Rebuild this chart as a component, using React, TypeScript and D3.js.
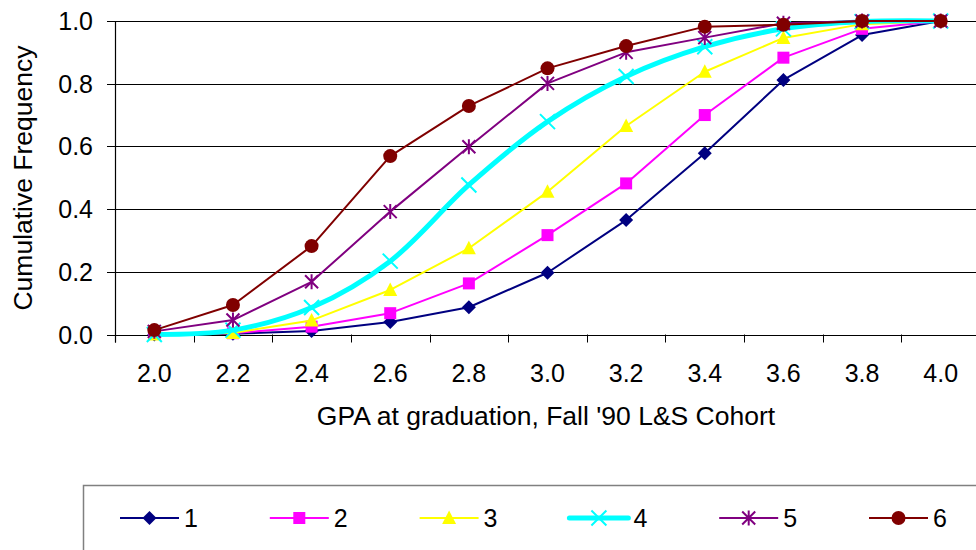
import React from "react";
import * as d3 from "d3";

const categories = ["2.0", "2.2", "2.4", "2.6", "2.8", "3.0", "3.2", "3.4", "3.6", "3.8", "4.0"];
const yTicks = [0, 0.2, 0.4, 0.6, 0.8, 1.0];
const seriesNames = ["1", "2", "3", "4", "5", "6"];
const s1 = [0.0, 0.002, 0.011, 0.04, 0.087, 0.197, 0.365, 0.578, 0.812, 0.955, 1.0];
const s2 = [0.004, 0.004, 0.025, 0.068, 0.163, 0.317, 0.482, 0.70, 0.883, 0.975, 1.0];
const s3 = [0.0, 0.005, 0.045, 0.142, 0.275, 0.455, 0.665, 0.838, 0.946, 0.99, 1.0];
const s4 = [0.0, 0.014, 0.086, 0.234, 0.477, 0.679, 0.823, 0.918, 0.975, 0.998, 1.0];
const s5 = [0.01, 0.046, 0.168, 0.392, 0.599, 0.801, 0.9, 0.947, 0.993, 1.0, 1.0];
const s6 = [0.014, 0.094, 0.282, 0.569, 0.729, 0.849, 0.92, 0.982, 0.988, 1.0, 1.0];
const seriesValues = [s1, s2, s3, s4, s5, s6];
const colors = ["#000080", "#FF00FF", "#FFFF00", "#00FFFF", "#800080", "#800000"];
const markerTypes = ["diamond", "square", "triangle", "x", "star", "circle"];
const lineWidths = [2, 2, 2, 5, 2, 2];
const smooth = [false, false, false, true, false, false];

const FONT = "'Liberation Sans', Arial, sans-serif";

function Marker({ type, cx, cy, color }: { type: string; cx: number; cy: number; color: string }) {
  if (type === "diamond") {
    const r = 7;
    return <path d={`M${cx},${cy - r}L${cx + r},${cy}L${cx},${cy + r}L${cx - r},${cy}Z`} fill={color} />;
  }
  if (type === "square") {
    const r = 6;
    return <rect x={cx - r} y={cy - r} width={2 * r} height={2 * r} fill={color} />;
  }
  if (type === "triangle") {
    return <path d={`M${cx},${cy - 7.5}L${cx + 7},${cy + 6}L${cx - 7},${cy + 6}Z`} fill={color} />;
  }
  if (type === "x") {
    const r = 7.5;
    return (
      <path d={`M${cx - r},${cy - r}L${cx + r},${cy + r}M${cx - r},${cy + r}L${cx + r},${cy - r}`} stroke={color} strokeWidth={2} fill="none" />
    );
  }
  if (type === "star") {
    const r = 6.5;
    return (
      <path
        d={`M${cx - r},${cy - r}L${cx + r},${cy + r}M${cx - r},${cy + r}L${cx + r},${cy - r}M${cx},${cy - r - 1}L${cx},${cy + r + 1}`}
        stroke={color}
        strokeWidth={2}
        fill="none"
      />
    );
  }
  return <circle cx={cx} cy={cy} r={7} fill={color} />;
}

export default function App() {
  const W = 976;
  const H = 550;
  const left = 115;
  const right = 980;
  const top = 21;
  const bottom = 334.5;
  const x = d3.scaleBand<string>().domain(categories).range([left, right]);
  const y = d3.scaleLinear().domain([0, 1]).range([bottom, top]);
  const cx = (c: string) => (x(c) as number) + x.bandwidth() / 2;

  const legendX0 = 120;
  const legendStep = 149.8;
  const legendY = 518;

  return (
    <svg width={W} height={H} style={{ position: "absolute", left: 0, top: 0, background: "#fff" }} fontFamily={FONT}>
      {/* gridlines */}
      {yTicks.map((t) => (
        <line key={"g" + t} x1={left - 8} x2={right} y1={Math.round(y(t)) + 0.5} y2={Math.round(y(t)) + 0.5} stroke="#000" strokeWidth={1} />
      ))}
      {/* y axis */}
      <line x1={left + 0.5} x2={left + 0.5} y1={top} y2={bottom + 8} stroke="#000" strokeWidth={1.2} />
      {/* x ticks */}
      {categories.map((c) => (
        <line key={"xt" + c} x1={Math.round(x(c) as number) + 0.5} x2={Math.round(x(c) as number) + 0.5} y1={bottom} y2={bottom + 8} stroke="#000" />
      ))}
      {/* y tick labels */}
      {yTicks.map((t) => (
        <text key={"yl" + t} x={93} y={y(t) + 9} textAnchor="end" fontSize={25} fill="#000">
          {t.toFixed(1)}
        </text>
      ))}
      {/* x tick labels */}
      {categories.map((c) => (
        <text key={"xl" + c} x={cx(c)} y={381.5} textAnchor="middle" fontSize={25} fill="#000">
          {c}
        </text>
      ))}
      {/* axis titles */}
      <text x={546} y={425} textAnchor="middle" fontSize={26.5} fill="#000">
        GPA at graduation, Fall '90 L&amp;S Cohort
      </text>
      <text transform={`translate(32,178) rotate(-90)`} textAnchor="middle" fontSize={26.5} fill="#000">
        Cumulative Frequency
      </text>
      {/* series */}
      {seriesValues.map((vals, i) => {
        const line = d3
          .line<number>()
          .x((_, j) => cx(categories[j]))
          .y((v) => y(v))
          .curve(smooth[i] ? d3.curveCatmullRom.alpha(0.5) : d3.curveLinear);
        return (
          <g key={"s" + i}>
            <path d={line(vals) || ""} fill="none" stroke={colors[i]} strokeWidth={lineWidths[i]} strokeLinejoin="round" />
            {vals.map((v, j) => (
              <Marker key={j} type={markerTypes[i]} cx={cx(categories[j])} cy={y(v)} color={colors[i]} />
            ))}
          </g>
        );
      })}
      {/* legend */}
      <rect x={83.5} y={485.5} width={1000} height={200} fill="none" stroke="#808080" strokeWidth={1.5} />
      {seriesNames.map((n, i) => {
        const x0 = legendX0 + i * legendStep;
        return (
          <g key={"lg" + n}>
            <line x1={x0} x2={x0 + 59} y1={legendY} y2={legendY} stroke={colors[i]} strokeWidth={lineWidths[i]} strokeLinecap={i === 3 ? "round" : "butt"} />
            <Marker type={markerTypes[i]} cx={x0 + 29.5} cy={legendY} color={colors[i]} />
            <text x={x0 + 64} y={legendY + 9} fontSize={25} fill="#000">
              {n}
            </text>
          </g>
        );
      })}
    </svg>
  );
}
